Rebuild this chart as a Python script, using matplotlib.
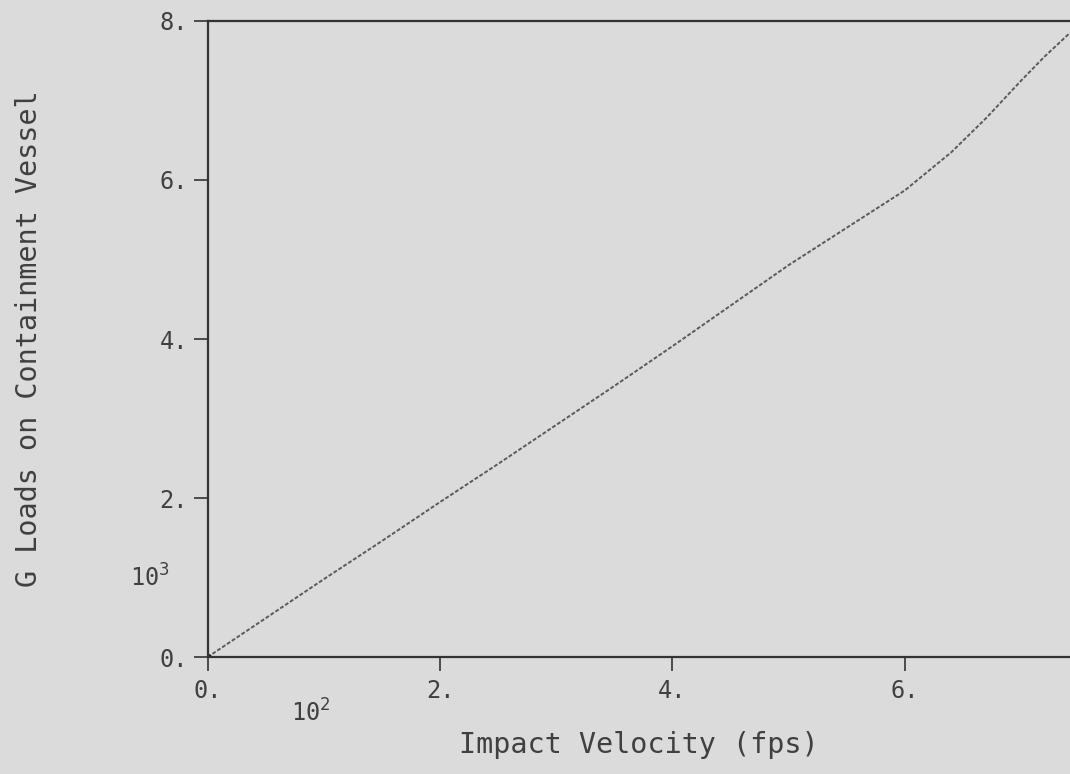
import numpy as np
import matplotlib.pyplot as plt

# impact velocity (x 10^2 fps) vs G loads on containment vessel (x 10^3)
velocity = [0.0, 0.5, 1.0, 1.5, 2.0, 2.5, 3.0, 3.5, 4.0, 4.5, 5.0, 5.5, 6.0, 6.4, 6.7, 7.0, 7.2, 7.42]
g_loads = [0.0, 0.49, 0.98, 1.46, 1.95, 2.43, 2.92, 3.41, 3.91, 4.42, 4.93, 5.40, 5.87, 6.35, 6.78, 7.25, 7.55, 7.85]

xticks = [0, 2, 4, 6]
xtick_labels = ["0.", "2.", "4.", "6."]
yticks = [0, 2, 4, 6, 8]
ytick_labels = ["0.", "2.", "4.", "6.", "8."]

bg = "#dbdbdb"
ink = "#404040"
plt.rcParams['font.family'] = ['DejaVu Sans Mono']

fig = plt.figure(figsize=(10.7, 7.74), dpi=100, facecolor=bg)
ax = fig.add_axes([0.194, 0.151, 0.806, 0.822], facecolor=bg)

ax.plot(velocity, g_loads, color="#5a5a5a", linewidth=1.4, linestyle=(0, (2, 1)))
ax.plot([0], [0], marker="o", markersize=4, color="#222222")

ax.set_xlim(0, 7.42)
ax.set_ylim(0, 8)
ax.set_xticks(xticks)
ax.set_xticklabels(xtick_labels)
ax.set_yticks(yticks)
ax.set_yticklabels(ytick_labels)
ax.tick_params(axis="both", direction="out", length=10, width=1.2, color="#333333",
               labelcolor=ink, labelsize=17)
ax.tick_params(axis="x", pad=6)
ax.tick_params(axis="y", pad=4)

for side in ("left", "bottom", "top"):
    ax.spines[side].set_color("#333333")
    ax.spines[side].set_linewidth(1.6)
ax.spines["right"].set_visible(False)

ax.set_xlabel("Impact Velocity (fps)", fontsize=20.5, color=ink, labelpad=20)
ax.set_ylabel("G Loads on Containment Vessel", fontsize=20.5, color=ink, labelpad=84)

# exponent multipliers for the axes
fig.text(150 / 1070, 1 - 578 / 774, "10$^3$", fontsize=17, color=ink, ha="center", va="center")
fig.text(311 / 1070, 1 - 713 / 774, "10$^2$", fontsize=17, color=ink, ha="center", va="center")

fig.savefig("out.png", dpi=100, facecolor=bg)
